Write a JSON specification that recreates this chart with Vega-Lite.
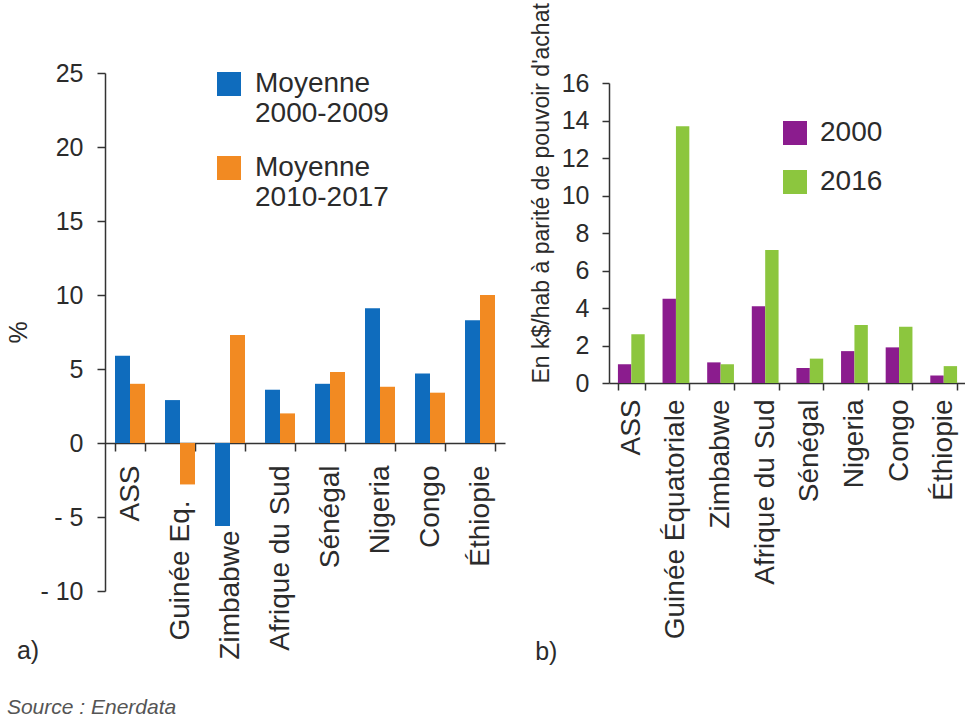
{
  "$schema": "https://vega.github.io/schema/vega-lite/v6.json",
  "background": "white",
  "padding": {"left": 6, "top": 2, "right": 0, "bottom": 3},
  "config": {
    "view": {"stroke": null},
    "font": "Liberation Sans",
    "axis": {"domainColor": "#333333", "tickColor": "#333333", "domainWidth": 1.5, "tickWidth": 1.5, "labelColor": "#2b2b2b", "titleColor": "#2b2b2b", "grid": false, "labelFont": "Liberation Sans", "titleFont": "Liberation Sans", "titleFontWeight": "normal"},
    "legend": {"labelFont": "Liberation Sans", "labelColor": "#2b2b2b"},
    "title": {"font": "Liberation Sans"}
  },
  "datasets": {
    "croissance": [
      {"pays": "ASS", "serie": "Moyenne 2000-2009", "valeur": 5.9},
      {"pays": "ASS", "serie": "Moyenne 2010-2017", "valeur": 4.0},
      {"pays": "Guinée Eq.", "serie": "Moyenne 2000-2009", "valeur": 2.9},
      {"pays": "Guinée Eq.", "serie": "Moyenne 2010-2017", "valeur": -2.8},
      {"pays": "Zimbabwe", "serie": "Moyenne 2000-2009", "valeur": -5.6},
      {"pays": "Zimbabwe", "serie": "Moyenne 2010-2017", "valeur": 7.3},
      {"pays": "Afrique du Sud", "serie": "Moyenne 2000-2009", "valeur": 3.6},
      {"pays": "Afrique du Sud", "serie": "Moyenne 2010-2017", "valeur": 2.0},
      {"pays": "Sénégal", "serie": "Moyenne 2000-2009", "valeur": 4.0},
      {"pays": "Sénégal", "serie": "Moyenne 2010-2017", "valeur": 4.8},
      {"pays": "Nigeria", "serie": "Moyenne 2000-2009", "valeur": 9.1},
      {"pays": "Nigeria", "serie": "Moyenne 2010-2017", "valeur": 3.8},
      {"pays": "Congo", "serie": "Moyenne 2000-2009", "valeur": 4.7},
      {"pays": "Congo", "serie": "Moyenne 2010-2017", "valeur": 3.4},
      {"pays": "Éthiopie", "serie": "Moyenne 2000-2009", "valeur": 8.3},
      {"pays": "Éthiopie", "serie": "Moyenne 2010-2017", "valeur": 10.0}
    ],
    "pib": [
      {"pays": "ASS", "annee": "2000", "valeur": 1.0},
      {"pays": "ASS", "annee": "2016", "valeur": 2.6},
      {"pays": "Guinée Équatoriale", "annee": "2000", "valeur": 4.5},
      {"pays": "Guinée Équatoriale", "annee": "2016", "valeur": 13.7},
      {"pays": "Zimbabwe", "annee": "2000", "valeur": 1.1},
      {"pays": "Zimbabwe", "annee": "2016", "valeur": 1.0},
      {"pays": "Afrique du Sud", "annee": "2000", "valeur": 4.1},
      {"pays": "Afrique du Sud", "annee": "2016", "valeur": 7.1},
      {"pays": "Sénégal", "annee": "2000", "valeur": 0.8},
      {"pays": "Sénégal", "annee": "2016", "valeur": 1.3},
      {"pays": "Nigeria", "annee": "2000", "valeur": 1.7},
      {"pays": "Nigeria", "annee": "2016", "valeur": 3.1},
      {"pays": "Congo", "annee": "2000", "valeur": 1.9},
      {"pays": "Congo", "annee": "2016", "valeur": 3.0},
      {"pays": "Éthiopie", "annee": "2000", "valeur": 0.4},
      {"pays": "Éthiopie", "annee": "2016", "valeur": 0.9}
    ]
  },
  "title": {"text": "Source : Enerdata", "orient": "bottom", "anchor": "start", "frame": "bounds", "fontStyle": "italic", "fontWeight": "normal", "fontSize": 21, "color": "#555555", "offset": 32},
  "spacing": 25,
  "resolve": {"scale": {"color": "independent", "xOffset": "independent", "x": "independent", "y": "independent"}, "legend": {"color": "independent"}},
  "hconcat": [
    {
      "width": 400,
      "height": 518,
      "title": {"text": "a)", "orient": "bottom", "anchor": "start", "frame": "bounds", "fontSize": 25, "fontWeight": "normal", "color": "#2b2b2b", "dx": 10, "offset": -20},
      "data": {"name": "croissance"},
      "mark": {"type": "bar"},
      "encoding": {
        "x": {
          "field": "pays", "type": "nominal", "sort": null,
          "scale": {"paddingInner": 0.4, "paddingOuter": 0.2},
          "axis": {
            "title": null, "labelAngle": -90, "labelAlign": "right", "labelBaseline": "middle",
            "labelFontSize": 28, "tickBand": "extent", "tickSize": 8, "offset": -148, "labelLimit": 0,
            "labelPadding": {"condition": [{"test": "datum.value === 'Guinée Eq.'", "value": 49}, {"test": "datum.value === 'Zimbabwe'", "value": 79}], "value": 14}
          }
        },
        "xOffset": {"field": "serie", "type": "nominal", "sort": null},
        "y": {
          "field": "valeur", "type": "quantitative",
          "scale": {"domain": [-10, 25], "nice": false},
          "axis": {
            "title": "%", "titleFontSize": 25, "titlePadding": 8,
            "values": [-10, -5, 0, 5, 10, 15, 20, 25],
            "labelExpr": "datum.value < 0 ? '- ' + (-datum.value) : datum.label",
            "labelFontSize": 25, "tickSize": 8, "labelPadding": 14
          }
        },
        "color": {
          "field": "serie", "type": "nominal",
          "scale": {"domain": ["Moyenne 2000-2009", "Moyenne 2010-2017"], "range": ["#0f6cbd", "#f28a22"]},
          "legend": {
            "title": null, "orient": "none", "legendX": 110, "legendY": -3,
            "symbolType": "square", "symbolSize": 576, "symbolStrokeWidth": 0,
            "labelFontSize": 28, "labelOffset": 12, "rowPadding": 26, "labelLimit": 0,
            "labelExpr": "['Moyenne', substring(datum.label, 8)]",
            "labelBaseline": "middle"
          }
        }
      }
    },
    {
      "width": 357,
      "height": 310,
      "title": {"text": "b)", "orient": "bottom", "anchor": "start", "frame": "bounds", "fontSize": 25, "fontWeight": "normal", "color": "#2b2b2b", "dx": 5, "offset": 1},
      "data": {"name": "pib"},
      "mark": {"type": "bar"},
      "encoding": {
        "x": {
          "field": "pays", "type": "nominal", "sort": null,
          "scale": {"paddingInner": 0.4, "paddingOuter": 0.2},
          "axis": {
            "title": null, "labelAngle": -90, "labelAlign": "right", "labelBaseline": "middle",
            "labelFontSize": 28, "tickBand": "extent", "tickSize": 7, "labelPadding": 9, "labelLimit": 0
          }
        },
        "xOffset": {"field": "annee", "type": "nominal", "sort": null},
        "y": {
          "field": "valeur", "type": "quantitative",
          "scale": {"domain": [0, 16], "nice": false, "range": [310, 10]},
          "axis": {
            "title": "En k$/hab à parité de pouvoir d'achat", "titleFontSize": 23, "titlePadding": 8,
            "titleAnchor": "start",
            "values": [0, 2, 4, 6, 8, 10, 12, 14, 16],
            "labelFontSize": 25, "tickSize": 7, "labelPadding": 13
          }
        },
        "color": {
          "field": "annee", "type": "nominal",
          "scale": {"domain": ["2000", "2016"], "range": ["#8b1c8e", "#8cc63e"]},
          "legend": {
            "title": null, "orient": "none", "legendX": 172, "legendY": 46,
            "symbolType": "square", "symbolSize": 576, "symbolStrokeWidth": 0,
            "labelFontSize": 28, "labelOffset": 11, "rowPadding": 21
          }
        }
      }
    }
  ]
}
